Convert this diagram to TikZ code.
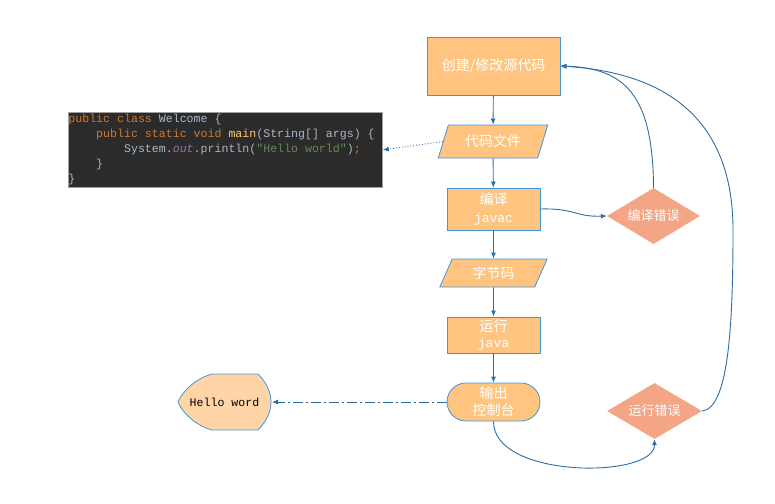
\documentclass[tikz,border=0pt]{standalone}
\usepackage{fontspec}
\setmonofont{Liberation Mono}
\newfontfamily\cjk{Noto Sans CJK SC}
\usetikzlibrary{shapes.geometric,arrows.meta}
\DeclareRobustCommand\mycodefont{\ttfamily\fontsize{11.6}{15}\selectfont}
\DeclareRobustCommand\csp{\hbox to 0.6em{}}
\definecolor{boxfill}{RGB}{255,197,128}
\definecolor{boxline}{RGB}{66,150,214}
\definecolor{errfill}{RGB}{243,165,133}
\definecolor{hellofill}{RGB}{255,213,168}
\definecolor{arrowc}{RGB}{46,109,164}
\definecolor{codebg}{RGB}{43,43,43}
\definecolor{codeline}{RGB}{160,160,160}
\definecolor{kw}{RGB}{204,120,50}
\definecolor{idc}{RGB}{169,183,198}
\definecolor{fnc}{RGB}{255,198,109}
\definecolor{fieldc}{RGB}{152,118,170}
\definecolor{strc}{RGB}{106,135,89}
\begin{document}
\begin{tikzpicture}[x=1pt,y=-1pt,
  every node/.style={inner sep=0pt},
  procbox/.style={rectangle,draw=boxline,fill=boxfill,line width=0.8pt,text=white,align=center,font=\cjk\fontsize{14}{19}\selectfont},
  databox/.style={trapezium,trapezium left angle=64,trapezium right angle=116,trapezium stretches=true,draw=boxline,fill=boxfill,line width=0.8pt,text=white,font=\cjk\fontsize{14}{19}\selectfont},
  termbox/.style={rectangle,rounded corners=19pt,draw=boxline,fill=boxfill,line width=0.8pt,text=white,align=center,font=\cjk\fontsize{14}{19}\selectfont},
  errbox/.style={diamond,aspect=1.7,fill=errfill,draw=none,text=white,font=\cjk\fontsize{13}{16}\selectfont},
  flow/.style={draw=arrowc,line width=0.9pt,-{Latex[length=6pt,width=5pt]}},
]
\useasboundingbox (0,0) rectangle (775,503);

% code box
\node (code) [rectangle,fill=codebg,draw=codeline,line width=0.8pt,minimum width=314pt,minimum height=75pt,text width=314pt,align=left,font=\mycodefont,anchor=north west] at (68,112) {%
\color{kw}public\csp{}class\csp{}\color{idc}Welcome\csp{}\{\\
\phantom{xxxx}\color{kw}public\csp{}static\csp{}void\csp{}\color{fnc}main\color{idc}(String[]\csp{}args)\csp{}\{\\
\phantom{xxxxxxxx}\color{idc}System.\textcolor{fieldc}{\itshape out}.println(\textcolor{strc}{"Hello\csp{}world"})\textcolor{kw}{;}\\
\phantom{xxxx}\color{idc}\}\\
\color{idc}\}};

% flow nodes
\node (edit) [procbox,minimum width=133pt,minimum height=58pt] at (493.5,66) {创建/修改源代码};
\node (file) [databox,minimum width=110pt,minimum height=33pt] at (493,141.5) {代码文件};
\node (comp) [procbox,minimum width=93pt,minimum height=42pt] at (493.5,209) {编译\\[-1pt]{\ttfamily\fontsize{13}{19}\selectfont javac}};
\node (bytec) [databox,minimum width=108pt,minimum height=28pt] at (493.5,273) {字节码};
\node (run) [procbox,minimum width=93pt,minimum height=36pt] at (493.5,335) {运行\\[-3pt]{\ttfamily\fontsize{13}{17}\selectfont java}};
\node (out) [termbox,minimum width=93pt,minimum height=38pt] at (493.5,402) {输出\\[-2pt]控制台};
\node (cerr) [errbox,minimum width=93pt,minimum height=56pt] at (653.5,216) {编译错误};
\node (rerr) [errbox,minimum width=95pt,minimum height=56pt] at (654.5,411) {运行错误};

% hello word shape
\fill[hellofill] (212,374) -- (258,374) .. controls (267,383) and (271,393) .. (271,402) .. controls (271,411) and (267,421) .. (258,430) -- (212,430) .. controls (197,426) and (183,414) .. (178,402) .. controls (183,390) and (197,378) .. (212,374) -- cycle;
\draw[boxline,line width=0.8pt] (212,374) -- (258,374) .. controls (267,383) and (271,393) .. (271,402) .. controls (271,411) and (267,421) .. (258,430) -- (212,430) .. controls (197,426) and (183,414) .. (178,402) .. controls (183,390) and (197,378) .. (212,374) -- cycle;
\node (hello) [font=\mycodefont,text=black,minimum width=93pt,minimum height=56pt] at (224.5,402) {Hello\csp{}word};
\coordinate (helloe) at (272,402);

% connectors
\draw[flow] (edit) -- (file);
\draw[flow] (file) -- (comp);
\draw[flow] (comp) -- (bytec);
\draw[flow] (bytec) -- (run);
\draw[flow] (run) -- (out);
\draw[flow] (comp.east) .. controls (575,208) and (575,217) .. (cerr.west);
\draw[flow] (cerr.north) .. controls (653,95) and (625,68) .. (edit.east);
\draw[flow] (rerr.east) .. controls (728,408) and (733,330) .. (733,230) .. controls (733,110) and (655,72) .. (edit.east);
\draw[flow] (out.south) .. controls (493,479) and (654.5,479) .. (rerr.south);
\draw[flow,dotted] (file.west) -- (code.east);
\draw[flow,dash pattern=on 10pt off 3pt on 2pt off 3pt] (out.west) -- (helloe);
\end{tikzpicture}
\end{document}
